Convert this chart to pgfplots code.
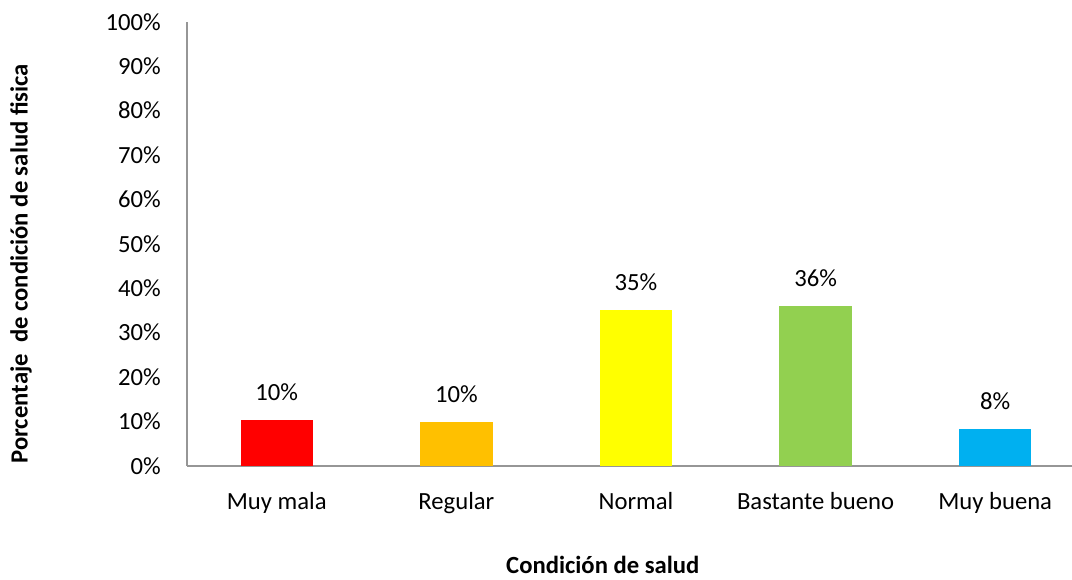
\documentclass[border=0pt]{standalone}
\usepackage{pgfplots}
\pgfplotsset{compat=1.18}
\usepackage{fontspec}
\setmainfont{Carlito}
\definecolor{axgray}{RGB}{150,150,150}
\definecolor{cmala}{RGB}{255,0,0}
\definecolor{creg}{RGB}{255,192,0}
\definecolor{cnorm}{RGB}{255,255,0}
\definecolor{cbast}{RGB}{146,208,80}
\definecolor{cbuena}{RGB}{0,176,240}

\begin{document}
\begin{tikzpicture}
\begin{axis}[
  scale only axis, width=673.5pt, height=333pt,
  ybar, bar shift=0pt, bar width=0.404,
  xmin=-0.5, xmax=4.5, ymin=0, ymax=100,
  axis x line=bottom, axis y line=left,
  axis line style={-, draw=axgray, line width=1.3pt},
  major tick length=0pt,
  font=\fontsize{18.5}{22}\selectfont,
  /pgf/number format/assume math mode=true,
  xtick={0,...,4},
  xticklabels={Muy mala,Regular,Normal,Bastante bueno,Muy buena},
  xticklabel style={anchor=base, yshift=-33pt},
  ytick={0,10,...,100},
  yticklabel={\pgfmathprintnumber{\tick}\%},
  yticklabel style={anchor=east, inner sep=0pt, xshift=-19.5pt},
  point meta=explicit symbolic,
  nodes near coords,
  every node near coord/.append style={anchor=base, inner sep=0pt, yshift=14.6pt, text=black},
  every axis y label/.style={at={(axis description cs:-0.1849,0.455)}, rotate=90, anchor=center},
  every axis x label/.style={at={(axis description cs:0.463,-0.243)}, anchor=base},
  ylabel={\bfseries Porcentaje\ \ de condición de salud fisica},
  xlabel={\bfseries Condición de salud},
]
\addplot[fill=cmala, draw=none] coordinates {(0,10.3) [10\%]};
\addplot[fill=creg, draw=none] coordinates {(1,9.8) [10\%]};
\addplot[fill=cnorm, draw=none] coordinates {(2,35.1) [35\%]};
\addplot[fill=cbast, draw=none] coordinates {(3,36.0) [36\%]};
\addplot[fill=cbuena, draw=none] coordinates {(4,8.3) [8\%]};
\end{axis}
\pgfresetboundingbox
\path (-140.25pt,-85.7pt) rectangle (663.75pt,349.3pt);
\end{tikzpicture}
\end{document}
